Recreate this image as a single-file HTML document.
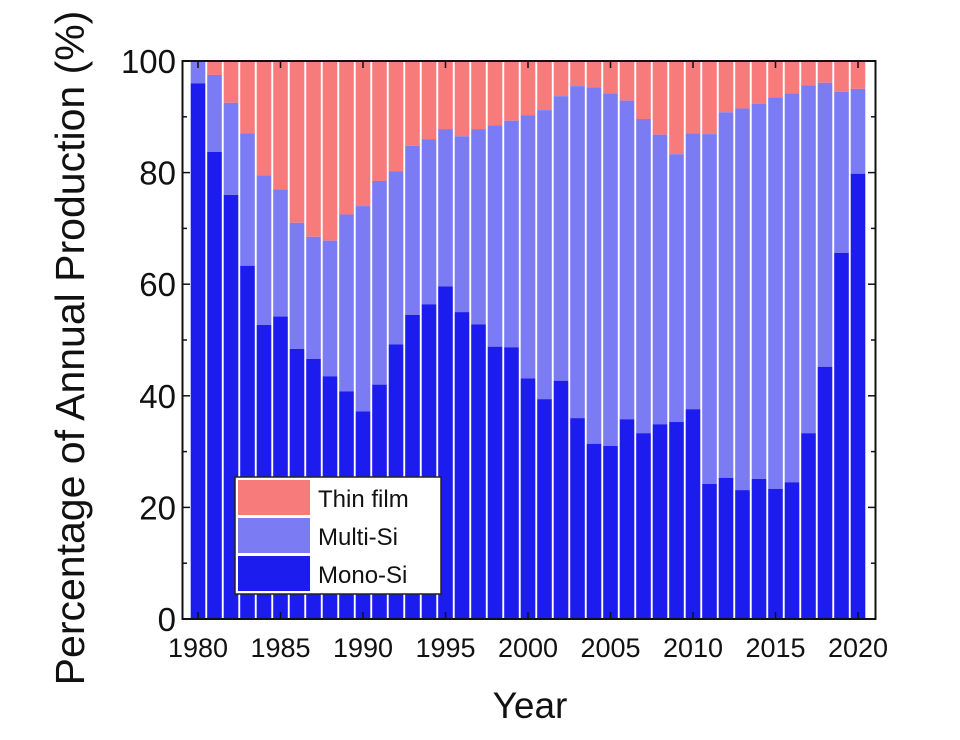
<!DOCTYPE html><html><head><style>body{margin:0;background:#fff}svg text{font-family:"Liberation Sans",sans-serif;fill:#111}</style></head><body>
<svg id="s" width="960" height="735" xmlns="http://www.w3.org/2000/svg"></svg>
<script>
const d=[[96,100],[83.7,97.5],[76,92.5],[63.3,87],[52.7,79.5],[54.2,77],[48.4,71],[46.6,68.5],[43.5,67.8],[40.8,72.5],[37.2,74],[42,78.5],[49.2,80.2],[54.5,84.8],[56.4,86],[59.6,87.8],[55,86.5],[52.8,87.8],[48.8,88.5],[48.7,89.3],[43.1,90.3],[39.4,91.2],[42.7,93.7],[36,95.5],[31.4,95.3],[31,94.2],[35.8,92.9],[33.3,89.6],[34.9,86.8],[35.3,83.3],[37.6,87],[24.2,86.9],[25.3,90.8],[23.1,91.5],[25.1,92.3],[23.3,93.5],[24.5,94.2],[33.3,95.6],[45.2,96.1],[65.6,94.5],[79.8,95]];
const Y=v=>619-v*5.58,X=i=>198+i*16.5;let h='';
d.forEach((r,i)=>{const x=X(i)-7.3,w=14.6;
h+=`<rect x="${x}" y="${Y(100)}" width="${w}" height="${Y(r[1])-Y(100)}" fill="#f87b7b"/>`;
h+=`<rect x="${x}" y="${Y(r[1])}" width="${w}" height="${Y(r[0])-Y(r[1])}" fill="#7b7bf4"/>`;
h+=`<rect x="${x}" y="${Y(r[0])}" width="${w}" height="${Y(0)-Y(r[0])}" fill="#1c1cee"/>`;});
h+=`<rect x="182.5" y="61" width="693" height="558" fill="none" stroke="#111" stroke-width="2"/>`;
for(let v=0;v<=100;v+=10){const y=Y(v),L=v%20?4:7;h+=`<line x1="183" x2="${183+L}" y1="${y}" y2="${y}" stroke="#111" stroke-width="1.5"/><line x1="875" x2="${875-L}" y1="${y}" y2="${y}" stroke="#111" stroke-width="1.5"/>`;
if(v%20==0)h+=`<text x="176" y="${y+12}" font-size="33" text-anchor="end">${v}</text>`;}
for(let i=0;i<=40;i+=5){const x=X(i);h+=`<line x1="${x}" x2="${x}" y1="619" y2="612" stroke="#111" stroke-width="1.5"/><line x1="${x}" x2="${x}" y1="61" y2="68" stroke="#111" stroke-width="1.5"/><text x="${x}" y="657" font-size="27" text-anchor="middle">${1980+i}</text>`;}
h+=`<text x="530" y="718" font-size="37" text-anchor="middle">Year</text>`;
h+=`<text transform="translate(84,348) rotate(-90)" font-size="41" text-anchor="middle">Percentage of Annual Production (%)</text>`;
h+=`<rect x="235" y="477" width="206" height="117" fill="#fff" stroke="#222" stroke-width="1.5"/>`;
[["#f87b7b","Thin film"],["#7b7bf4","Multi-Si"],["#1c1cee","Mono-Si"]].forEach((c,i)=>{const y=480+i*38;h+=`<rect x="238" y="${y}" width="72" height="35" fill="${c[0]}"/><text x="318" y="${y+27}" font-size="24">${c[1]}</text>`;});
document.getElementById('s').innerHTML=h;
</script></body></html>
